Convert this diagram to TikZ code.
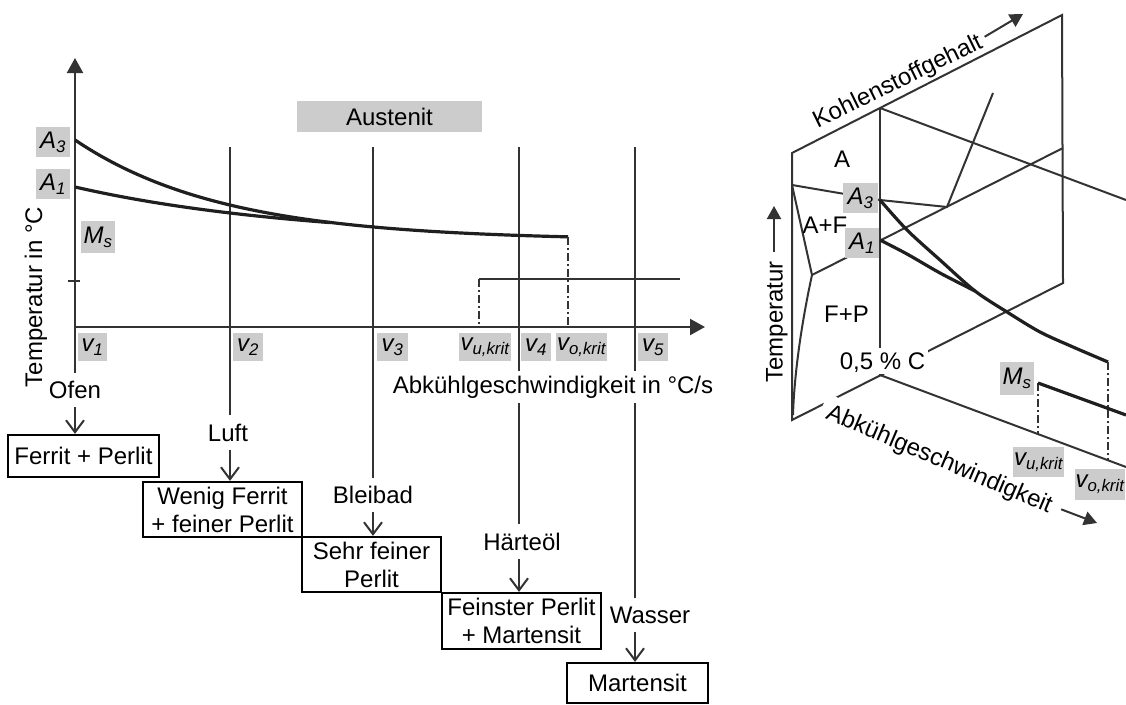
\documentclass[tikz,border=0pt]{standalone}
\usepackage{fontspec}
\setmainfont{Liberation Sans}
\usetikzlibrary{arrows.meta}
\definecolor{ink}{gray}{0.2}
\definecolor{tagfill}{gray}{0.8}
\tikzset{
  txt/.style={font=\fontsize{24}{28}\selectfont, text=black},
  lbl/.style={txt, inner sep=0pt, text height=17.2pt, text depth=0pt},
  medlabel/.style={lbl, outer sep=8.6pt},
  greytag/.style={txt, fill=tagfill, inner sep=0pt},
  resbox/.style={txt, draw=black, line width=2.2pt, align=center, inner sep=0pt},
  axisline/.style={draw=ink, line width=2.2pt},
  thinline/.style={draw=ink, line width=2pt},
  coolcurve/.style={draw=ink!60!black, line width=3.2pt},
  critline/.style={draw=ink, line width=2pt, dash pattern=on 8pt off 3pt on 2pt off 3pt},
  axisarrow/.style={-{Triangle[length=15pt,width=16pt]}},
  smallarrow/.style={-{Triangle[length=13pt,width=14pt]}},
  procarrow/.style={-{Straight Barb[length=12pt,width=18pt,line width=2pt]}},
}
\begin{document}
\begin{tikzpicture}[x=1pt,y=-1pt]
\useasboundingbox (0,0) rectangle (1126,704);

% ================= cooling-rate diagram =================
\coordinate (O) at (75,327);
\coordinate (ytip) at (75,58);
\coordinate (xtip) at (705,327);
\coordinate (t2) at (230,147);
\coordinate (t3) at (373,147);
\coordinate (t4) at (519,147);
\coordinate (t5) at (635,147);

% resulting microstructures
\node[resbox, minimum width=151pt, minimum height=42pt] (b1) at (83.5,456) {Ferrit + Perlit};
\node[resbox, minimum width=159pt, minimum height=55pt] (b2) at (222.5,509.5) {Wenig Ferrit\\+ feiner Perlit};
\node[resbox, minimum width=139pt, minimum height=55pt] (b3) at (371.5,564.5) {Sehr feiner\\Perlit};
\node[resbox, minimum width=159pt, minimum height=56pt] (b4) at (521.5,621) {Feinster Perlit\\+ Martensit};
\node[resbox, minimum width=141pt, minimum height=40pt] (b5) at (637.5,683) {Martensit};

% quenching media
\node[medlabel] (ofen) at (75,390) {Ofen};
\node[medlabel] (luft) at (228,432.5) {Luft};
\node[medlabel] (blei) at (373,495) {Bleibad};
\node[medlabel] (oel) at (522,541.5) {Härteöl};
\node[medlabel] (wasser) at (650,615) {Wasser};

% axes
\draw[axisline, axisarrow] (ofen.north) -- (ytip);
\draw[axisline, axisarrow] (O) -- (xtip);
\draw[axisline] (68,281) -- (80,281);

% cooling-rate lines
\draw[thinline] (t2) -- (t2 |- luft.north);
\draw[thinline] (t3) -- (t3 |- blei.north);
\draw[thinline] (t4) -- (t4 |- oel.north);
\draw[thinline] (t5) -- (t5 |- wasser.north);

\draw[thinline, procarrow] (ofen.south) -- (ofen |- b1.north);
\draw[thinline, procarrow] (t2 |- luft.south) -- (t2 |- b2.north);
\draw[thinline, procarrow] (t3 |- blei.south) -- (t3 |- b3.north);
\draw[thinline, procarrow] (t4 |- oel.south) -- (t4 |- b4.north);
\draw[thinline, procarrow] (t5 |- wasser.south) -- (t5 |- b5.north);

% transformation temperatures
\draw[coolcurve] plot[domain=75:568, samples=80] (\x, {240.5-100.5*exp(-(\x-75)/148.8)});
\draw[coolcurve] plot[domain=75:330, samples=50] (\x, {240.5-53.5*exp(-(\x-75)/233)});
\coordinate (ocrit) at (568,236.8);
\coordinate (ucrit) at (479,279);
\coordinate (msend) at (680,279);
\draw[critline] (ocrit) -- (ocrit |- O);
\draw[critline] (ucrit) -- (ucrit |- O);
\draw[thinline] (ucrit) -- (msend);

% labels
\node[greytag, minimum width=185pt, minimum height=31pt] (aust) at (389.5,116.5) {Austenit};
\node[greytag, minimum width=34pt, minimum height=30pt] (la3) at (53,142) {\textit{A\textsubscript{3}}};
\node[greytag, minimum width=34pt, minimum height=30pt] (la1) at (53,184) {\textit{A\textsubscript{1}}};
\node[greytag, minimum width=34pt, minimum height=32pt] (lms) at (98,237) {\textit{M\textsubscript{s}}};

\node[greytag, minimum width=29pt, minimum height=28pt] (lv1) at (92.5,347) {\textit{v\textsubscript{1}}};
\node[greytag, minimum width=30pt, minimum height=28pt] (lv2) at (248,347) {\textit{v\textsubscript{2}}};
\node[greytag, minimum width=31pt, minimum height=28pt] (lv3) at (392.5,347) {\textit{v\textsubscript{3}}};
\node[greytag, minimum width=52pt, minimum height=28pt] (lvu) at (485,347) {\textit{v\textsubscript{u,krit}}};
\node[greytag, minimum width=30pt, minimum height=28pt] (lv4) at (536,347) {\textit{v\textsubscript{4}}};
\node[greytag, minimum width=51pt, minimum height=28pt] (lvo) at (581.5,347) {\textit{v\textsubscript{o,krit}}};
\node[greytag, minimum width=30pt, minimum height=28pt] (lv5) at (653,347) {\textit{v\textsubscript{5}}};

\node[txt, fill=white, inner xsep=3pt, inner ysep=5pt] (xlab) at (553,387) {Abkühlgeschwindigkeit in °C/s};
\node[lbl, rotate=90] (ylab) at (33.5,297) {Temperatur in °C};

% ================= spatial sketch =================
\coordinate (TL) at (792,153);
\coordinate (TR) at (1062,15);
\coordinate (BR) at (1063,283);
\coordinate (BL) at (792,420);
\coordinate (Ctop) at (880,108);
\coordinate (Cbot) at (880,375);
\coordinate (CtopR) at (1126,200);
\coordinate (CbotR) at (1126,467);
\coordinate (G) at (792,185);
\coordinate (A3p) at (880,200);
\coordinate (S) at (947,207);
\coordinate (E) at (993,93);
\coordinate (P) at (812,275);
\coordinate (A1p) at (880,240);
\coordinate (K) at (1063,148);
\coordinate (Q) at (793,415);

% iron-carbon section
\draw[thinline] (TL) -- (TR) -- (BR) -- (BL) -- cycle;
\draw[thinline] (G) -- (A3p) -- (S) -- (E);
\draw[thinline] (G) -- (P) .. controls (800,330) and (794,380) .. (Q);
\draw[thinline] (P) -- (K);

% cooling plane at 0,5 % C
\draw[thinline] (Ctop) -- (Cbot);
\draw[thinline] (Ctop) -- (CtopR);
\draw[thinline] (Cbot) -- (CbotR);

\draw[coolcurve] plot[smooth] coordinates {(880,200) (907,230) (940,260) (975,291) (1007,312) (1040,332) (1073,347) (1108,362)};
\draw[coolcurve] plot[smooth] coordinates {(880,240) (907,254) (940,273) (975,291)};
\coordinate (ocritR) at (1108,362);
\coordinate (ocritB) at (1108,460);
\coordinate (ucritR) at (1038,383);
\coordinate (ucritB) at (1038,434);
\coordinate (msR) at (1126,415);
\draw[critline] (ocritR) -- (ocritB);
\draw[critline] (ucritR) -- (ucritB);
\draw[coolcurve] (ucritR) -- (msR);

% labels
\node[greytag, minimum width=35pt, minimum height=30pt] (ra3) at (860.5,198) {\textit{A\textsubscript{3}}};
\node[greytag, minimum width=34pt, minimum height=30pt] (ra1) at (862,243) {\textit{A\textsubscript{1}}};
\node[greytag, minimum width=34pt, minimum height=33pt] (rms) at (1017,378.5) {\textit{M\textsubscript{s}}};

\node[lbl] (phA) at (842,158.5) {A};
\node[lbl] (phAF) at (825,225) {A+F};
\node[lbl] (phFP) at (846.5,313.5) {F+P};
\node[lbl, fill=white, inner xsep=3pt, inner ysep=4pt] (conc) at (882.5,361) {0,5 \% C};

\node[lbl, rotate=90] (tlab) at (774,322) {Temperatur};
\coordinate (ttip) at (774,206);
\draw[thinline, smallarrow, shorten <=9pt] (tlab.east) -- (ttip);

\node[lbl, rotate=26] (clab) at (897,80) {Kohlenstoffgehalt};
\coordinate (ctip) at (1023,14);
\draw[thinline, smallarrow, shorten <=5pt] (clab.east) -- (ctip);

\node[lbl, rotate=-23, fill=white, inner sep=7pt] (vlab) at (940,458) {Abkühlgeschwindigkeit};
\coordinate (vtip) at (1097,523);
\draw[thinline, smallarrow, shorten <=3pt] (vlab.east) -- (vtip);

\node[greytag, minimum width=51pt, minimum height=30pt] (rvu) at (1038.5,462) {\textit{v\textsubscript{u,krit}}};
\node[greytag, minimum width=50pt, minimum height=31pt] (rvo) at (1100,484.5) {\textit{v\textsubscript{o,krit}}};
\end{tikzpicture}
\end{document}
